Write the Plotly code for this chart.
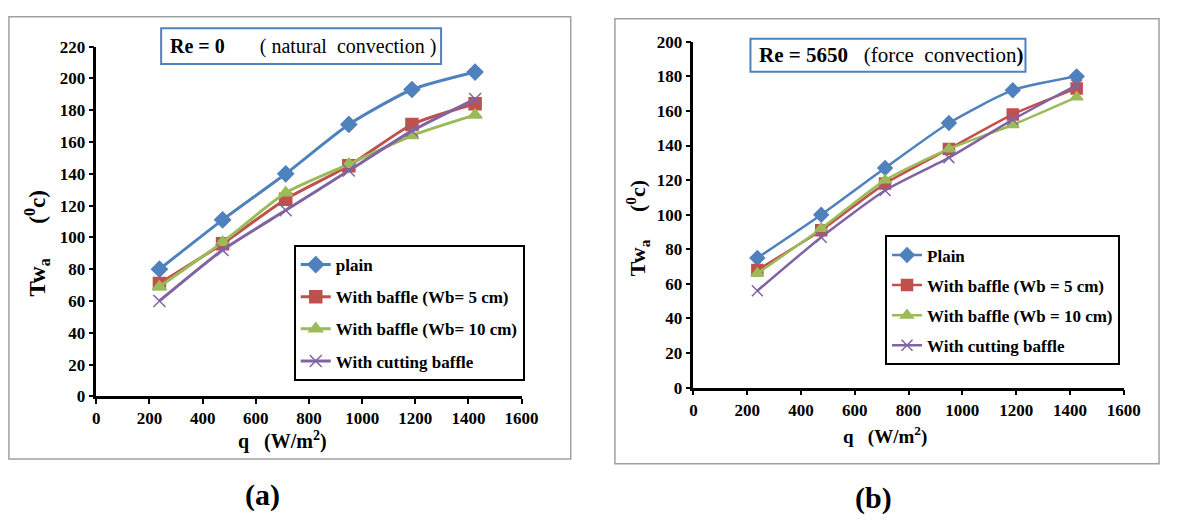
import plotly.graph_objects as go

W, H = 1179, 521

q = [237.5, 475, 712.5, 950, 1187.5, 1425]
x_ticks = [0, 200, 400, 600, 800, 1000, 1200, 1400, 1600]

names_a = ["plain", "With baffle (Wb= 5 cm)", "With baffle (Wb= 10 cm)", "With cutting baffle"]
names_b = ["Plain", "With baffle (Wb = 5 cm)", "With baffle (Wb = 10 cm)", "With cutting baffle"]

a_plain = [80, 111, 140, 171, 193, 204]
a_b5 = [71, 96, 124, 145, 171, 184]
a_b10 = [69, 97, 128, 146, 164, 177]
a_cut = [60, 92, 117, 142, 167, 187]

b_plain = [75, 100, 127, 153, 172, 180]
b_b5 = [68, 91, 118, 138, 158, 173]
b_b10 = [66, 92, 120, 138, 152, 168]
b_cut = [56, 87, 114, 133, 155, 175]

colors = ["#4F81BD", "#C0504D", "#9BBB59", "#8064A2"]
symbols = ["diamond", "square", "triangle-up", "x-thin"]
sizes_a = [12, 12, 12, 12]
sizes_b = [11, 11, 11, 11]

FONT = "Liberation Serif, Times New Roman, serif"


def px(x):
    return x / W


def py(y):
    return 1 - y / H


fig = go.Figure()

for i, (name, ys) in enumerate(zip(names_a, [a_plain, a_b5, a_b10, a_cut])):
    fig.add_trace(go.Scatter(
        x=q, y=ys, name=name, mode="lines+markers",
        line=dict(color=colors[i], width=3, shape="spline", smoothing=0.6),
        marker=dict(symbol=symbols[i], size=sizes_a[i], color=colors[i],
                    line=dict(color=colors[i], width=1.5)),
        xaxis="x", yaxis="y", legend="legend", legendgroup="a%d" % i,
    ))

for i, (name, ys) in enumerate(zip(names_b, [b_plain, b_b5, b_b10, b_cut])):
    fig.add_trace(go.Scatter(
        x=q, y=ys, name=name, mode="lines+markers",
        line=dict(color=colors[i], width=2.5, shape="spline", smoothing=0.6),
        marker=dict(symbol=symbols[i], size=sizes_b[i], color=colors[i],
                    line=dict(color=colors[i], width=1.5)),
        xaxis="x2", yaxis="y2", legend="legend2", legendgroup="b%d" % i,
    ))

axis_common = dict(
    showgrid=False, zeroline=False, showline=True, linecolor="black", linewidth=2.5,
    ticks="outside", ticklen=5, tickwidth=2, tickcolor="black",
    tickfont=dict(family=FONT, size=17, color="black", weight="bold"),
)

legend_common = dict(
    xanchor="left", yanchor="top", bordercolor="black", borderwidth=2, bgcolor="white",
    font=dict(family=FONT, size=17, color="black", weight="bold"), itemwidth=30,
)

fig.update_layout(
    width=W, height=H,
    margin=dict(l=0, r=0, t=0, b=0),
    paper_bgcolor="white", plot_bgcolor="white",
    showlegend=True,
    xaxis=dict(domain=[px(94), px(527)], range=[0, 1600], tickvals=x_ticks,
               anchor="y", **axis_common),
    yaxis=dict(domain=[py(402), py(39)], range=[0, 220], dtick=20,
               anchor="x", **axis_common),
    xaxis2=dict(domain=[px(702), px(1140)], range=[0, 1600], tickvals=x_ticks,
                anchor="y2", **axis_common),
    yaxis2=dict(domain=[py(393), py(34)], range=[0, 200], dtick=20,
                anchor="x2", **axis_common),
    legend=dict(x=px(295), y=py(245), tracegroupgap=7, **legend_common),
    legend2=dict(x=px(897), y=py(235), tracegroupgap=5, **legend_common),
)

shapes = [
    # outer panel borders
    dict(type="rect", xref="paper", yref="paper", x0=px(5), x1=px(577), y0=py(467), y1=py(8),
         line=dict(color="#A0A0A0", width=1.5)),
    dict(type="rect", xref="paper", yref="paper", x0=px(622), x1=px(1176), y0=py(472), y1=py(10),
         line=dict(color="#A0A0A0", width=1.5)),
    # title boxes
    dict(type="rect", xref="paper", yref="paper", x0=px(160), x1=px(445), y0=py(57), y1=py(20),
         line=dict(color="#4F81BD", width=2), fillcolor="white"),
    dict(type="rect", xref="paper", yref="paper", x0=px(760), x1=px(1040), y0=py(65), y1=py(31),
         line=dict(color="#4F81BD", width=2), fillcolor="white"),
]
fig.update_layout(shapes=shapes)

ann = [
    dict(text="<b>Re = 0</b>       ( natural  convection )", x=px(167), y=py(39),
         xanchor="left", yanchor="middle", font=dict(family=FONT, size=20, color="black")),
    dict(text="<b>Re = 5650</b>   (force  convection<b>)</b>", x=px(767), y=py(48),
         xanchor="left", yanchor="middle", font=dict(family=FONT, size=21, color="black")),
    dict(text="<b>Tw<sub>a</sub>      (<sup>0</sup>c)</b>", x=px(33), y=py(243), textangle=-90,
         xanchor="center", yanchor="middle", font=dict(family=FONT, size=23, color="black")),
    dict(text="<b>Tw<sub>a</sub>     (<sup>0</sup>c)</b>", x=px(645), y=py(228), textangle=-90,
         xanchor="center", yanchor="middle", font=dict(family=FONT, size=22, color="black")),
    dict(text="<b>q   (W/m<sup>2</sup>)</b>", x=px(284), y=py(448),
         xanchor="center", yanchor="middle", font=dict(family=FONT, size=20, color="black")),
    dict(text="<b>q   (W/m<sup>2</sup>)</b>", x=px(897), y=py(443),
         xanchor="center", yanchor="middle", font=dict(family=FONT, size=19, color="black")),
    dict(text="<b>(a)</b>", x=px(263), y=py(504),
         xanchor="center", yanchor="middle", font=dict(family=FONT, size=30, color="black")),
    dict(text="<b>(b)</b>", x=px(885), y=py(507),
         xanchor="center", yanchor="middle", font=dict(family=FONT, size=30, color="black")),
]
for a in ann:
    a.update(xref="paper", yref="paper", showarrow=False)
fig.update_layout(annotations=ann)

fig.write_html("out.html")
